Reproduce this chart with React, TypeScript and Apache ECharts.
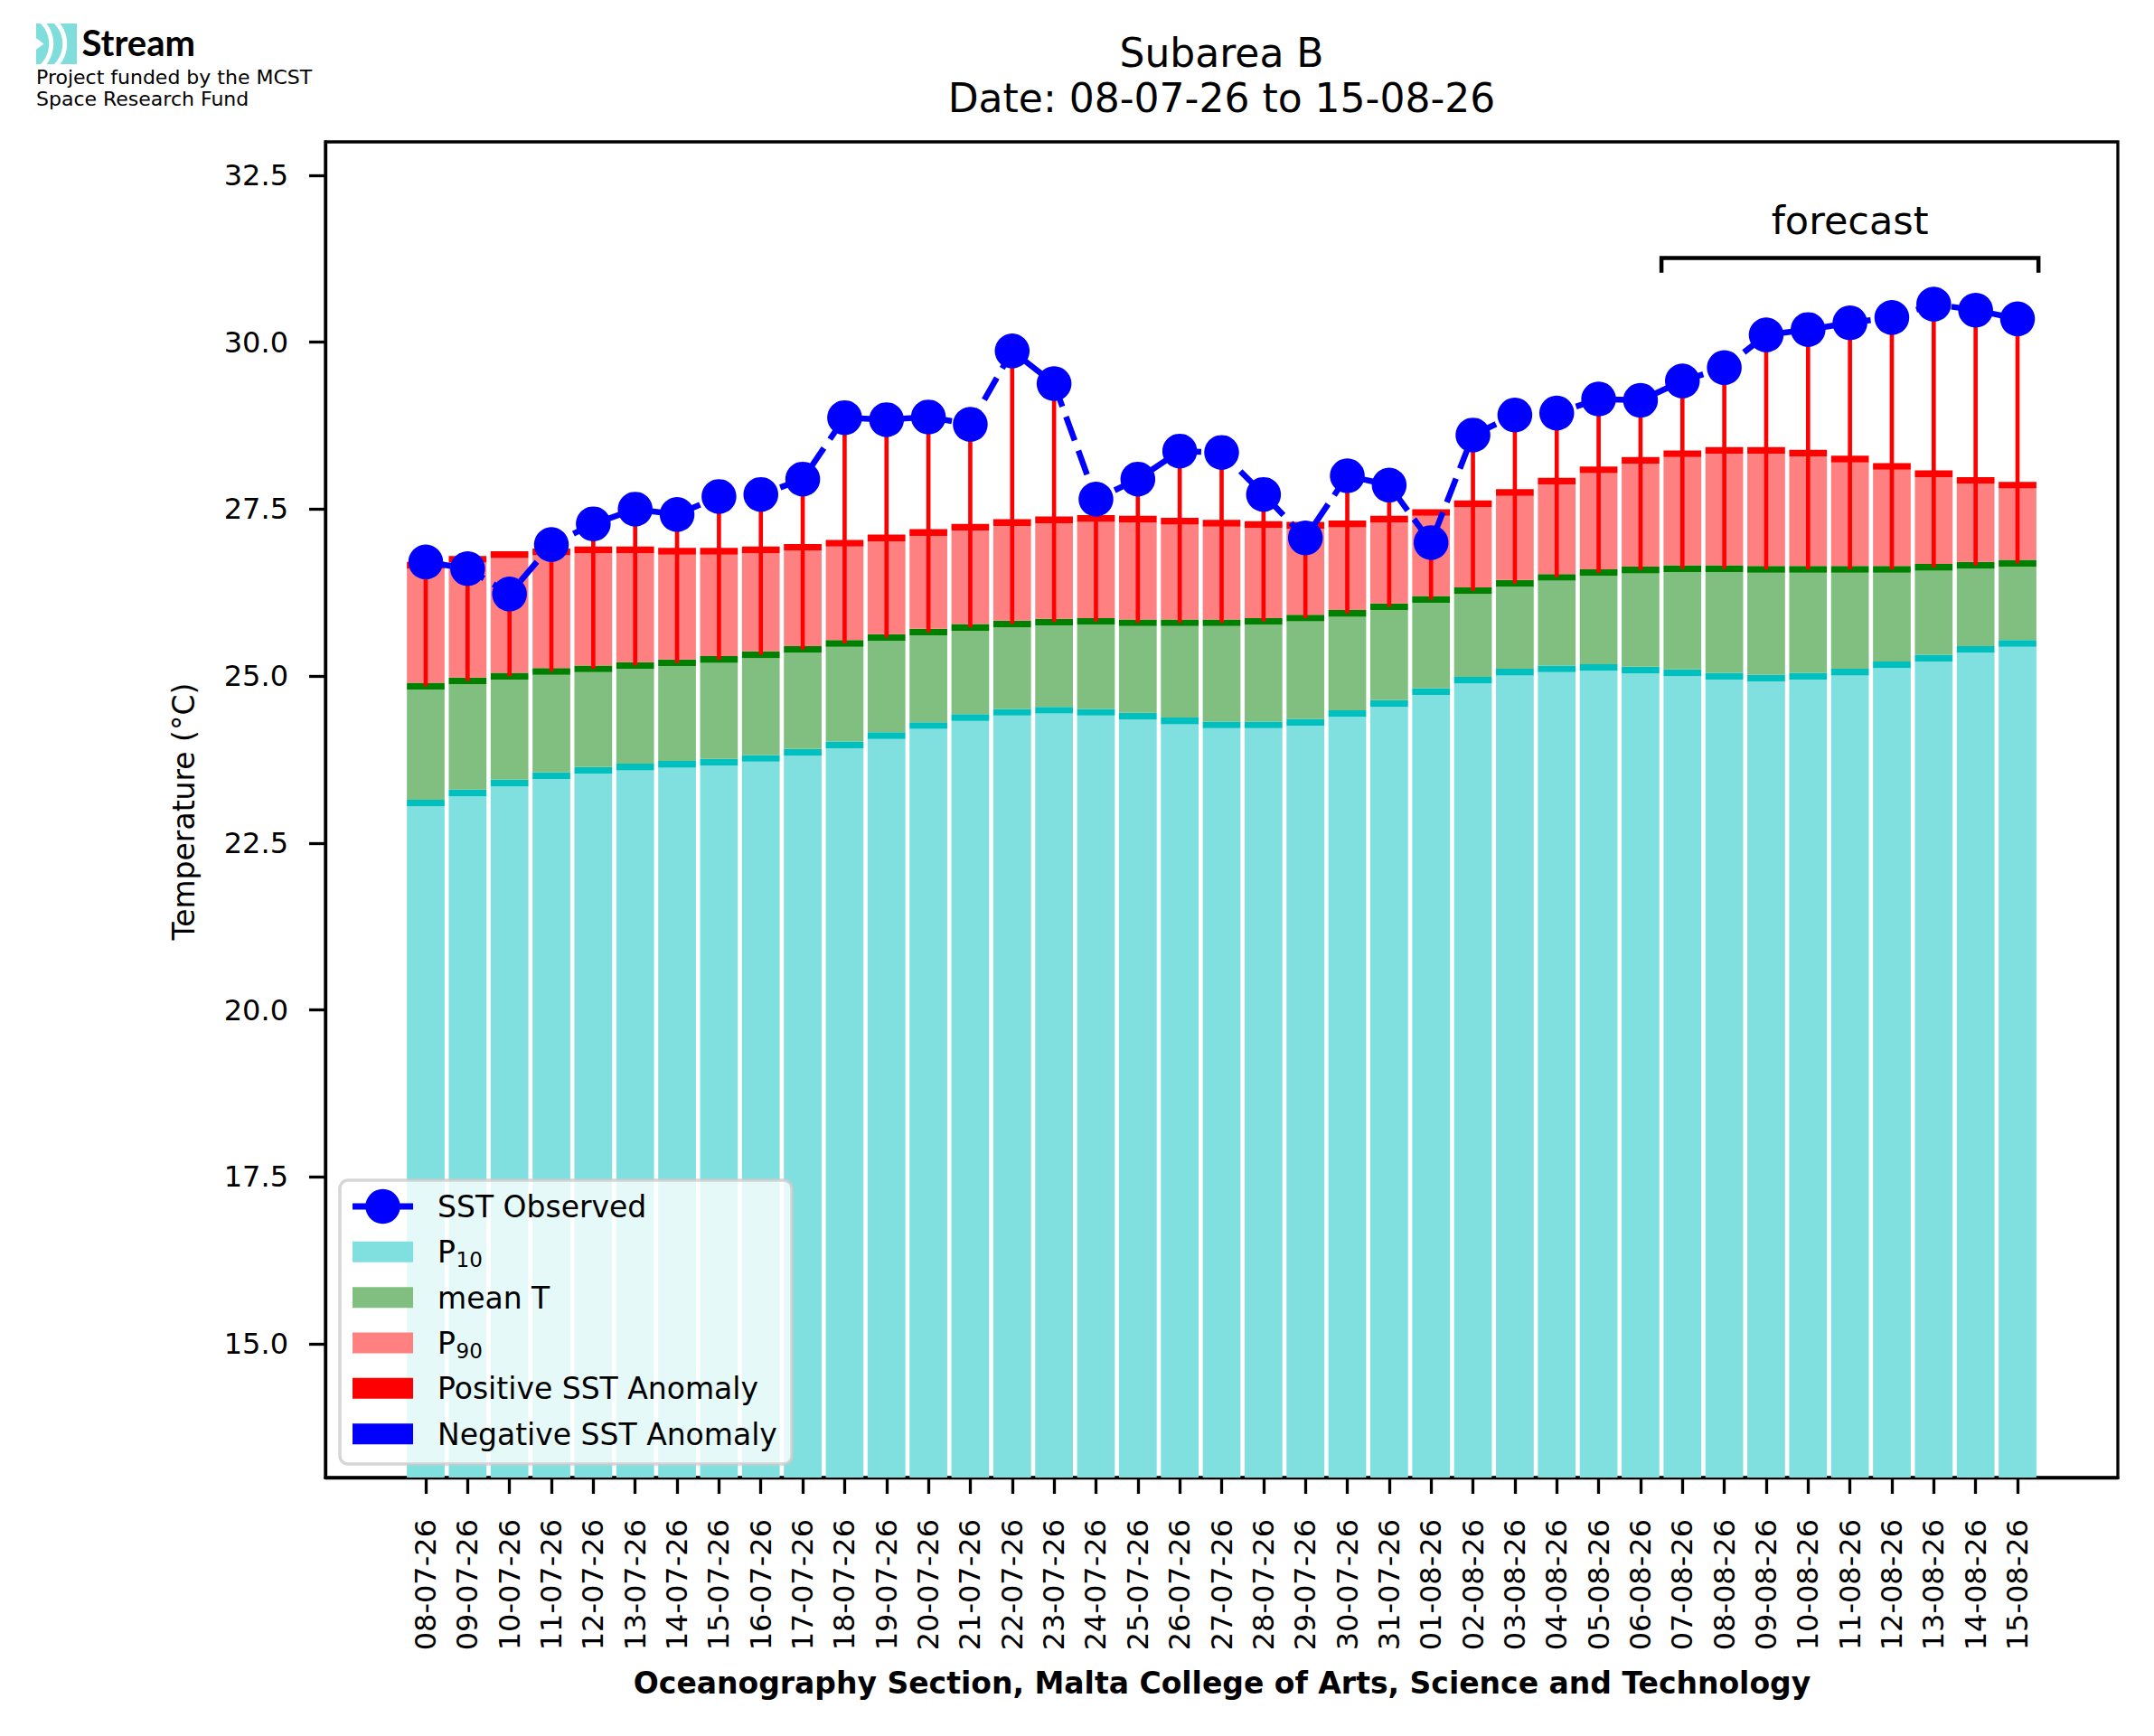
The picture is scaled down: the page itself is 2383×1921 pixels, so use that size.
import React, { useEffect, useRef } from "react";
import * as echarts from "echarts";

const dates = [
  "08-07-26", "09-07-26", "10-07-26", "11-07-26", "12-07-26", "13-07-26", "14-07-26", "15-07-26",
  "16-07-26", "17-07-26", "18-07-26", "19-07-26", "20-07-26", "21-07-26", "22-07-26", "23-07-26",
  "24-07-26", "25-07-26", "26-07-26", "27-07-26", "28-07-26", "29-07-26", "30-07-26", "31-07-26",
  "01-08-26", "02-08-26", "03-08-26", "04-08-26", "05-08-26", "06-08-26", "07-08-26", "08-08-26",
  "09-08-26", "10-08-26", "11-08-26", "12-08-26", "13-08-26", "14-08-26", "15-08-26",
];

const p10 = [
  23.1, 23.25, 23.4, 23.51, 23.59, 23.64, 23.68, 23.71, 23.77, 23.86, 23.97, 24.11, 24.26,
  24.38, 24.46, 24.49, 24.46, 24.4, 24.33, 24.27, 24.27, 24.31, 24.44, 24.59, 24.77, 24.94, 25.06,
  25.11, 25.13, 25.09, 25.05, 25.0, 24.97, 25.0, 25.06, 25.17, 25.27, 25.4, 25.49,
];

const meanT = [
  24.85, 24.93, 25.0, 25.07, 25.11, 25.16, 25.2, 25.25, 25.32, 25.4, 25.49, 25.58, 25.66,
  25.73, 25.78, 25.81, 25.82, 25.8, 25.8, 25.8, 25.82, 25.87, 25.94, 26.04, 26.15, 26.28, 26.39,
  26.48, 26.55, 26.59, 26.61, 26.61, 26.6, 26.6, 26.6, 26.6, 26.63, 26.66, 26.69,
];

const p90 = [
  26.66, 26.75, 26.82, 26.86, 26.89, 26.89, 26.87, 26.87, 26.89, 26.93, 26.99, 27.07, 27.15,
  27.23, 27.3, 27.34, 27.36, 27.35, 27.32, 27.29, 27.27, 27.26, 27.28, 27.35, 27.45, 27.58, 27.75,
  27.92, 28.09, 28.23, 28.33, 28.38, 28.38, 28.34, 28.25, 28.14, 28.03, 27.93, 27.86,
];

const observed = [
  26.71, 26.61, 26.23, 26.97, 27.28, 27.5, 27.42, 27.69, 27.72, 27.95, 28.87, 28.84, 28.88,
  28.77, 29.87, 29.38, 27.65, 27.95, 28.37, 28.35, 27.72, 27.07, 28.0, 27.86, 27.0, 28.61, 28.91,
  28.94, 29.15, 29.13, 29.42, 29.62, 30.11, 30.19, 30.29, 30.37, 30.57, 30.48, 30.35,
];

const yTicks = [15, 17.5, 20, 22.5, 25, 27.5, 30, 32.5];
const forecastStart = 30; // first forecast day index (07-08-26)
const forecastLevel = 31.26;
const forecastDrop = 0.22;

const FONT = "DejaVu Sans";
const FS = 33;
const BAR_W = 0.9;
const CAP = 0.1;
const ANOM_W = 0.1;

export default function App() {
  const ref = useRef<HTMLDivElement>(null);

  useEffect(() => {
    const el = ref.current!;
    const chart = echarts.init(el, null, { renderer: "svg" });
    const idx = dates.map((_, i) => i);

    const band = (name: string, lo: number[] | null, hi: number[], fill: string, capColor: string) => ({
      type: "custom",
      name,
      z: 2,
      data: idx.map((i) => [i, lo ? lo[i] : 13, hi[i]]),
      encode: { x: 0, y: [1, 2] },
      renderItem: (params: any, api: any) => {
        const x = api.value(0);
        const l = api.value(1);
        const h = api.value(2);
        const start = lo ? l + CAP / 2 : l;
        const a = api.coord([x - BAR_W / 2, h - CAP / 2]);
        const b = api.coord([x + BAR_W / 2, start]);
        const c = api.coord([x - BAR_W / 2, h + CAP / 2]);
        const d = api.coord([x + BAR_W / 2, h - CAP / 2]);
        return {
          type: "group",
          children: [
            { type: "rect", shape: { x: a[0], y: a[1], width: b[0] - a[0], height: b[1] - a[1] }, style: { fill } },
            { type: "rect", shape: { x: c[0], y: c[1], width: d[0] - c[0], height: d[1] - c[1] }, style: { fill: capColor } },
          ],
        };
      },
    });

    const anomaly = {
      type: "custom",
      name: "SST Anomaly",
      z: 3,
      data: idx.map((i) => [i, meanT[i], observed[i]]),
      encode: { x: 0, y: [1, 2] },
      renderItem: (params: any, api: any) => {
        const x = api.value(0);
        const m = api.value(1);
        const o = api.value(2);
        const a = api.coord([x - ANOM_W / 2, Math.max(m, o)]);
        const b = api.coord([x + ANOM_W / 2, Math.min(m, o)]);
        return {
          type: "rect",
          shape: { x: a[0], y: a[1], width: b[0] - a[0], height: b[1] - a[1] },
          style: { fill: o >= m ? "#ff0000" : "#0000ff" },
        };
      },
    };

    const legendRows = [1335, 1385.3, 1435.7, 1486, 1536.3, 1586.7];
    const hx = 390;
    const hw = 67;
    const hh = 23;
    const tx = 484;
    const legendText = (text: string, y: number) => ({
      type: "text",
      x: tx,
      y: y + 0.6,
      z: 101,
      style: { text, fontSize: FS, fontFamily: FONT, fill: "#000", align: "left", verticalAlign: "middle" },
    });
    const legendRect = (y: number, color: string) => ({
      type: "rect",
      z: 101,
      shape: { x: hx, y: y - hh / 2, width: hw, height: hh },
      style: { fill: color },
    });
    const subLabel = (main: string, sub: string, y: number) => [
      legendText(main, y),
      {
        type: "text",
        x: tx + 20.5,
        y: y + 8.5,
        z: 101,
        style: { text: sub, fontSize: 23, fontFamily: FONT, fill: "#000", align: "left", verticalAlign: "middle" },
      },
    ];

    const option: any = {
      animation: false,
      backgroundColor: "#ffffff",
      grid: {
        left: 360,
        top: 157,
        width: 1983,
        height: 1478,
        show: true,
        borderColor: "#000",
        borderWidth: 3.3,
        backgroundColor: "transparent",
        containLabel: false,
      },
      xAxis: {
        type: "value",
        min: -2.395,
        max: 40.395,
        axisLine: { show: true, onZero: false, lineStyle: { color: "#000", width: 3.3 } },
        axisTick: { show: true, customValues: idx, length: 18, lineStyle: { color: "#000", width: 3.3 } },
        axisLabel: {
          show: true,
          customValues: idx,
          rotate: 90,
          margin: 46,
          fontSize: 32,
          fontFamily: FONT,
          color: "#000",
          formatter: (v: number) => dates[Math.round(v)] ?? "",
        },
        splitLine: { show: false },
      },
      yAxis: {
        type: "value",
        min: 13,
        max: 33,
        axisLine: { show: true, onZero: false, lineStyle: { color: "#000", width: 3.3 } },
        axisTick: { show: true, customValues: yTicks, length: 18, lineStyle: { color: "#000", width: 3.3 } },
        axisLabel: {
          show: true,
          customValues: yTicks,
          margin: 41,
          fontSize: 32,
          fontFamily: FONT,
          color: "#000",
          formatter: (v: number) => v.toFixed(1),
        },
        splitLine: { show: false },
      },
      series: [
        band("P10", null, p10, "#80dfdf", "#00bfbf"),
        band("mean T", p10, meanT, "#80bf80", "#008000"),
        band("P90", meanT, p90, "#ff8080", "#ff0000"),
        anomaly,
        {
          type: "line",
          name: "SST Observed",
          z: 4,
          data: idx.map((i) => [i, observed[i]]),
          symbol: "circle",
          symbolSize: 38.5,
          itemStyle: { color: "#0000ff" },
          lineStyle: { color: "#0000ff", width: 6.5, type: [28, 12] },
        },
        {
          type: "line",
          name: "forecast",
          z: 4,
          symbol: "none",
          data: [
            [forecastStart - 0.5, forecastLevel - forecastDrop],
            [forecastStart - 0.5, forecastLevel],
            [dates.length - 0.5, forecastLevel],
            [dates.length - 0.5, forecastLevel - forecastDrop],
          ],
          lineStyle: { color: "#000", width: 4.5, cap: "butt", join: "miter" },
        },
      ],
    };

    chart.setOption(option);

    const fcX = (forecastStart - 0.5 + dates.length - 0.5) / 2;
    const fcPix = chart.convertToPixel({ gridIndex: 0 }, [fcX, forecastLevel]) as number[];

    const graphic: any[] = [
      // logo
      { type: "rect", z: 100, shape: { x: 40, y: 26, width: 45, height: 45 }, style: { fill: "#7fdedb" } },
      {
        type: "arc", z: 101,
        shape: { cx: 22.4, cy: 48.5, r: 34.3, startAngle: -Math.PI / 3, endAngle: Math.PI / 3 },
        style: { stroke: "#ffffff", lineWidth: 5, fill: "none" },
      },
      {
        type: "arc", z: 101,
        shape: { cx: 37.4, cy: 48.5, r: 34.3, startAngle: -Math.PI / 3, endAngle: Math.PI / 3 },
        style: { stroke: "#ffffff", lineWidth: 5, fill: "none" },
      },
      { type: "polygon", z: 101, shape: { points: [[39, 41.5], [48.5, 48.5], [39, 55.5]] }, style: { fill: "#ffffff" } },
      { type: "rect", z: 102, shape: { x: 85, y: 20, width: 6, height: 56 }, style: { fill: "#ffffff" } },
      {
        type: "text", x: 90.5, y: 46.5, z: 102,
        style: { text: "Stream", fontSize: 40, fontFamily: "Lato", fontWeight: "bold", fill: "#000", align: "left", verticalAlign: "middle" },
      },
      {
        type: "text", x: 40, y: 85.5, z: 102,
        style: { text: "Project funded by the MCST", fontSize: 22, fontFamily: FONT, fill: "#000", align: "left", verticalAlign: "middle" },
      },
      {
        type: "text", x: 40, y: 109.5, z: 102,
        style: { text: "Space Research Fund", fontSize: 22, fontFamily: FONT, fill: "#000", align: "left", verticalAlign: "middle" },
      },
      // title
      {
        type: "text", x: 1351.5, y: 58.7, z: 100,
        style: { text: "Subarea B", fontSize: 44, fontFamily: FONT, fill: "#000", align: "center", verticalAlign: "middle" },
      },
      {
        type: "text", x: 1351.5, y: 108.3, z: 100,
        style: { text: "Date: 08-07-26 to 15-08-26", fontSize: 44, fontFamily: FONT, fill: "#000", align: "center", verticalAlign: "middle" },
      },
      // axis names
      {
        type: "text", x: 203.5, y: 898, rotation: Math.PI / 2, z: 100,
        style: { text: "Temperature (°C)", fontSize: FS, fontFamily: FONT, fill: "#000", align: "center", verticalAlign: "middle" },
      },
      {
        type: "text", x: 1352, y: 1862.3, z: 100,
        style: {
          text: "Oceanography Section, Malta College of Arts, Science and Technology",
          fontSize: FS, fontWeight: "bold", fontFamily: FONT, fill: "#000", align: "center", verticalAlign: "middle",
        },
      },
      // forecast annotation
      {
        type: "text", x: fcPix[0], y: fcPix[1] - 41.8, z: 100,
        style: { text: "forecast", fontSize: 43, fontFamily: FONT, fill: "#000", align: "center", verticalAlign: "middle" },
      },
      // legend
      {
        type: "rect", z: 100,
        shape: { x: 376, y: 1306, width: 500, height: 314, r: 9 },
        style: { fill: "rgba(255,255,255,0.8)", stroke: "rgba(204,204,204,0.8)", lineWidth: 3.5 },
      },
      {
        type: "line", z: 101,
        shape: { x1: hx, y1: legendRows[0], x2: hx + hw, y2: legendRows[0] },
        style: { stroke: "#0000ff", lineWidth: 7 },
      },
      { type: "circle", z: 102, shape: { cx: hx + hw / 2, cy: legendRows[0], r: 19.2 }, style: { fill: "#0000ff" } },
      legendText("SST Observed", legendRows[0]),
      legendRect(legendRows[1], "#80dfdf"),
      ...subLabel("P", "10", legendRows[1]),
      legendRect(legendRows[2], "#80bf80"),
      legendText("mean T", legendRows[2]),
      legendRect(legendRows[3], "#ff8080"),
      ...subLabel("P", "90", legendRows[3]),
      legendRect(legendRows[4], "#ff0000"),
      legendText("Positive SST Anomaly", legendRows[4]),
      legendRect(legendRows[5], "#0000ff"),
      legendText("Negative SST Anomaly", legendRows[5]),
    ];

    chart.setOption({ graphic });

    return () => {
      chart.dispose();
    };
  }, []);

  return (
    <div
      ref={ref}
      style={{ position: "absolute", left: 0, top: 0, width: 2383, height: 1921, background: "#fff" }}
    />
  );
}
